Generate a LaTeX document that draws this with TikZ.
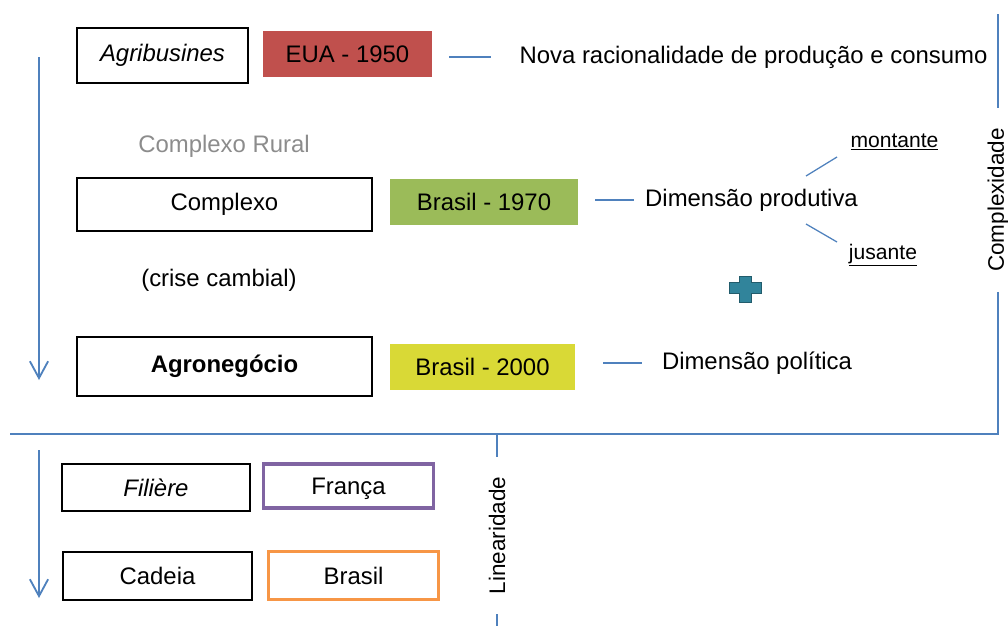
\documentclass[tikz,border=0pt]{standalone}
\usepackage{fontspec}
\setmainfont{Liberation Sans}
\usetikzlibrary{arrows.meta}
\definecolor{linha}{HTML}{4F81BD}
\definecolor{verm}{HTML}{C0504D}
\definecolor{verde}{HTML}{9BBB59}
\definecolor{amar}{HTML}{D9D936}
\definecolor{roxo}{HTML}{8064A2}
\definecolor{laranja}{HTML}{F79646}
\definecolor{petro}{HTML}{31849B}
\definecolor{cinza}{HTML}{8C8C8C}
\begin{document}
\begin{tikzpicture}[x=0.025cm,y=-0.025cm,
		txt/.style={font=\fontsize{17}{20}\selectfont},
		caixa/.style={draw,line width=1pt,txt},
		cor/.style={fill=#1,txt},
		moldura/.style={draw=#1,line width=2.5pt,txt,text depth=0pt},
		link/.style={linha,line width=0.9pt},
		seta/.style={linha,line width=1.3pt,-{Straight Barb[length=12pt,width=13pt,line width=1.3pt]}},
		eixo/.style={txt,font=\fontsize{16}{19}\selectfont,rotate=90,inner xsep=14pt}]
	\useasboundingbox (0,0) rectangle (1008,626);
	% parte de cima
	\node[caixa,minimum width=4.275cm,minimum height=1.375cm] (agri) at (162.5,55.5) {\itshape Agribusines};
	\node[cor=verm,minimum width=4.225cm,minimum height=1.15cm] (eua) at (347.5,54) {EUA - 1950};
	\node[txt,inner sep=0pt] (nova) at (753.5,57) {Nova racionalidade de produção e consumo};
	\node[txt,text=cinza] (rural) at (224,146) {Complexo Rural};
	\node[caixa,minimum width=7.375cm,minimum height=1.325cm] (comp) at (224.5,204.5) {Complexo};
	\node[cor=verde,minimum width=4.7cm,minimum height=1.15cm] (br70) at (484,202) {Brasil - 1970};
	\node[txt,inner sep=0pt] (prod) at (751.5,200) {Dimensão produtiva};
	\node[txt,font=\fontsize{15}{18}\selectfont] (mont) at (894.5,142) {\underline{montante}};
	\node[txt,font=\fontsize{15}{18}\selectfont] (jus) at (883,255) {\underline{jusante}};
	\node[txt] (crise) at (219,280) {(crise cambial)};
	\node[caixa,minimum width=7.375cm,minimum height=1.475cm] (agro) at (224.5,366.5) {\bfseries Agronegócio};
	\node[cor=amar,minimum width=4.625cm,minimum height=1.15cm] (br00) at (482.5,367) {Brasil - 2000};
	\node[txt,inner sep=0pt] (pol) at (757,363) {Dimensão política};
	\draw[link,shorten <=0.425cm,shorten >=0.7cm] (nova.west -| eua.east) -- (nova.west);
	\draw[link,shorten <=0.425cm,shorten >=0.275cm] (prod.west -| br70.east) -- (prod.west);
	\draw[link,shorten <=0.7cm,shorten >=0.5cm] (pol.west -| br00.east) -- (pol.west);
	\coordinate (m1) at (806,176);
	\coordinate (m2) at (837,157);
	\coordinate (j1) at (806,224);
	\coordinate (j2) at (837,242);
	\draw[link] (m1) -- (m2);
	\draw[link] (j1) -- (j2);
	\filldraw[fill=petro,draw=petro!70!black,line width=0.6pt]
		(739,276) -- (751,276) -- (751,282) -- (761,282) -- (761,293) -- (751,293)
		-- (751,302) -- (739,302) -- (739,293) -- (729,293) -- (729,282) -- (739,282) -- cycle;
	\coordinate (a1) at (39,57);
	\coordinate (a2) at (39,380);
	\draw[seta] (a1) -- (a2);
	% complexidade
	\node[eixo] (cplx) at (998,200) {Complexidade};
	\coordinate (ctop) at (998,14);
	\coordinate (cbase) at (998,434);
	\coordinate (hesq) at (10,434);
	\draw[link] (ctop) -- (cplx.east);
	\draw[link] (cplx.west) -- (cbase) -- (hesq);
	% parte de baixo
	\node[caixa,minimum width=4.7cm,minimum height=1.175cm] (fil) at (156,487.5) {\itshape Filière};
	\node[moldura=roxo,minimum width=4.24cm,minimum height=1.11cm] (fra) at (348.5,486) {França};
	\node[caixa,minimum width=4.725cm,minimum height=1.2cm] (cad) at (157.5,576) {Cadeia};
	\node[moldura=laranja,minimum width=4.24cm,minimum height=1.19cm] (bra) at (353.5,575.5) {Brasil};
	\coordinate (b1) at (39,450);
	\coordinate (b2) at (39,598);
	\draw[seta] (b1) -- (b2);
	\node[eixo] (lin) at (497,535.5) {Linearidade};
	\coordinate (lbase) at (497,626);
	\draw[link] (lin.east |- hesq) -- (lin.east);
	\draw[link] (lin.west) -- (lbase);
\end{tikzpicture}
\end{document}
